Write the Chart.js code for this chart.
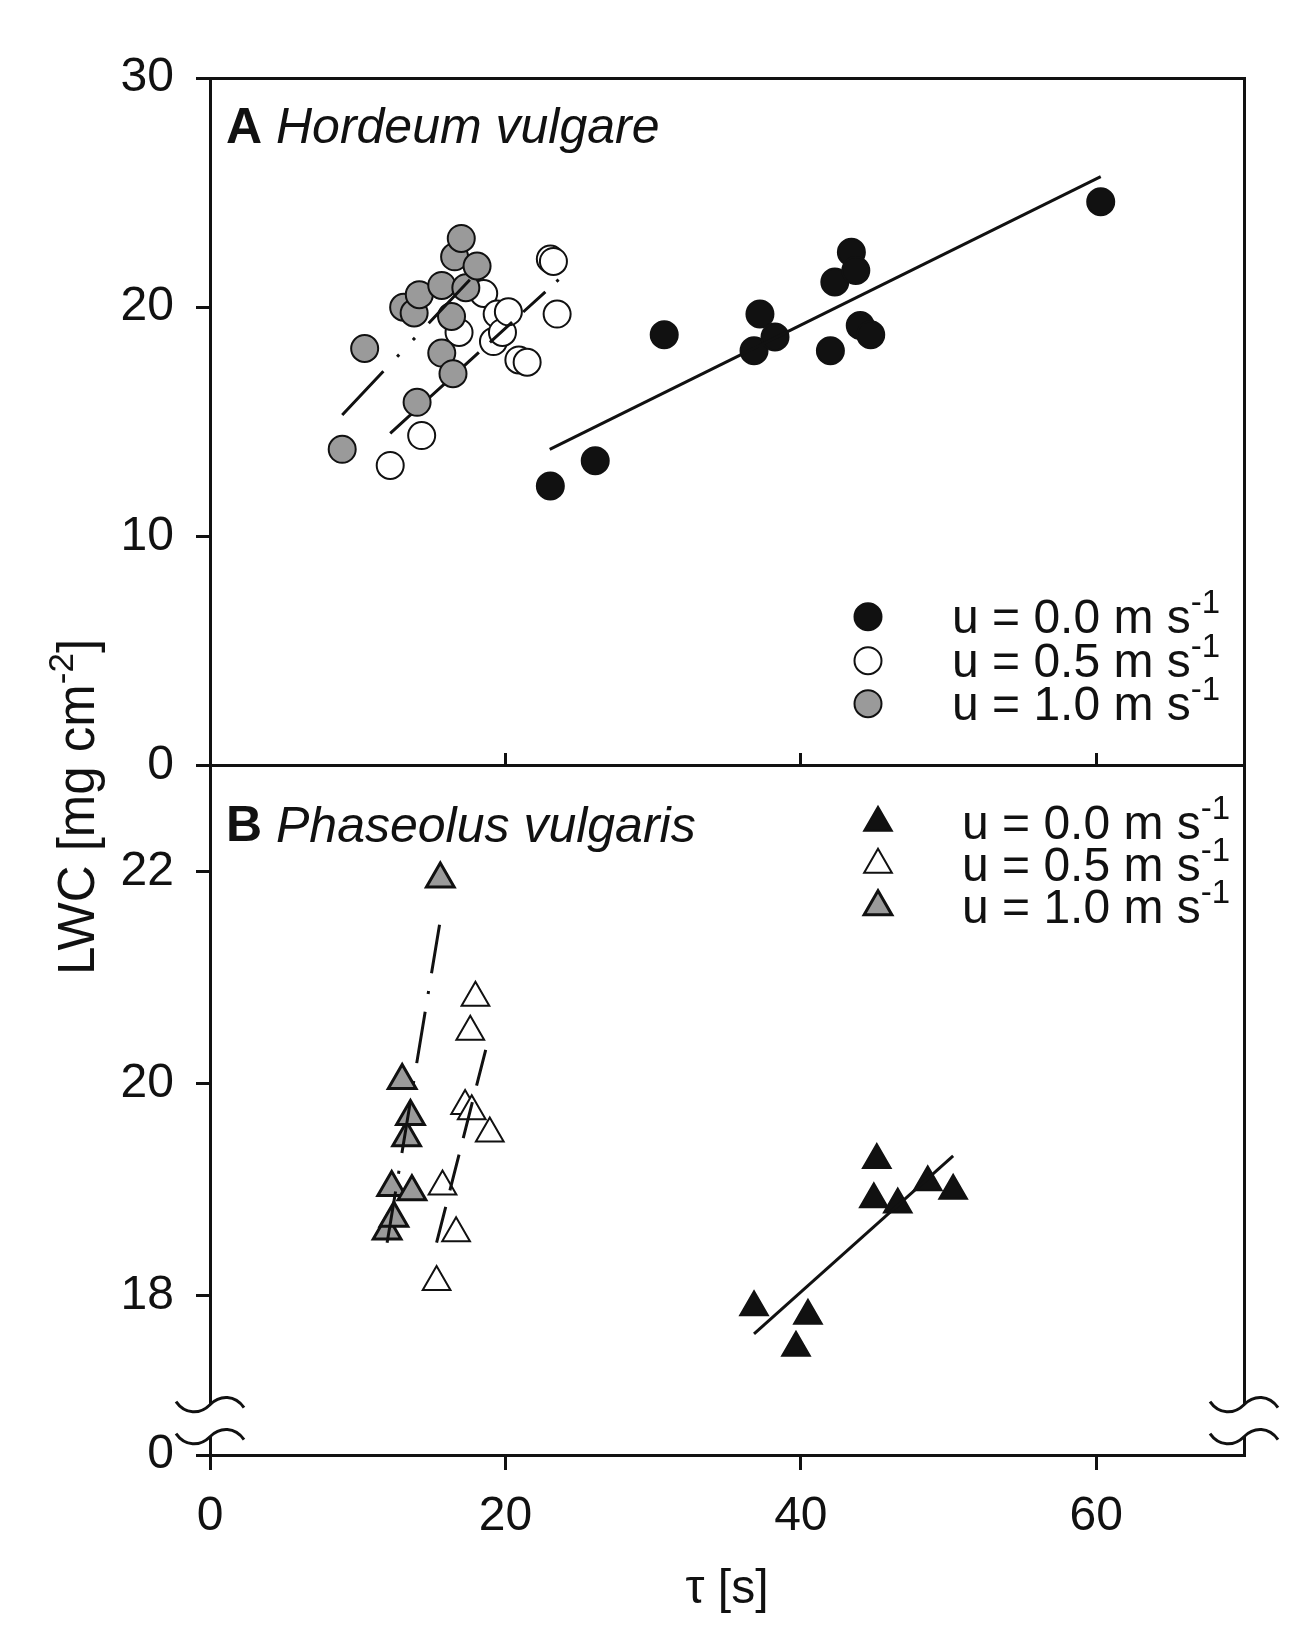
<!DOCTYPE html>
<html>
<head>
<meta charset="utf-8">
<title>LWC vs tau</title>
<script src="https://cdn.jsdelivr.net/npm/chart.js@4.4.1/dist/chart.umd.min.js"></script>
<style>
  html, body { margin: 0; padding: 0; background: #fff; }
  #wrap { position: relative; width: 1299px; height: 1628px; }
</style>
</head>
<body>
<div id="wrap"><canvas id="lwc" width="1299" height="1628"></canvas></div>
<script>
// values
const windSpeeds = ["0.0", "0.5", "1.0"];

// A  Hordeum vulgare (circles)
const hvTau00 = [23.04, 26.08, 30.75, 36.83, 37.23, 38.25, 42.0, 42.3, 43.42, 43.72, 44.02, 44.73, 60.3];
const hvLwc00 = [12.2, 13.3, 18.8, 18.1, 19.7, 18.7, 18.1, 21.1, 22.4, 21.6, 19.2, 18.8, 24.6];
const hvTau05 = [12.2, 14.33, 16.86, 18.53, 19.19, 19.44, 19.8, 20.2, 20.91, 21.47, 23.04, 23.25, 23.5];
const hvLwc05 = [13.1, 14.4, 18.9, 20.6, 18.5, 19.7, 18.9, 19.8, 17.7, 17.6, 22.1, 22.0, 19.7];
const hvTau10 = [8.95, 10.47, 13.11, 13.82, 14.02, 14.17, 15.69, 15.69, 16.35, 16.45, 16.56, 17.01, 17.32, 18.08];
const hvLwc10 = [13.8, 18.2, 20.0, 19.75, 15.85, 20.55, 20.95, 18.0, 19.6, 17.1, 22.2, 23.0, 20.85, 21.8];
// regression lines, panel A (end points)
const hvFitTau00 = [23.0, 60.3];
const hvFitLwc00 = [13.8, 25.7];
const hvFitTau05 = [12.2, 23.6];
const hvFitLwc05 = [14.5, 21.2];
const hvFitTau10 = [8.95, 18.03];
const hvFitLwc10 = [15.3, 21.5];

// B  Phaseolus vulgaris (triangles)
const pvTau00 = [36.83, 39.67, 40.48, 44.94, 45.14, 46.56, 48.59, 50.31];
const pvLwc00 = [17.89, 17.51, 17.81, 18.91, 19.28, 18.86, 19.07, 18.99];
const pvTau05 = [15.34, 15.74, 16.66, 17.27, 17.62, 17.72, 17.97, 18.94];
const pvLwc05 = [18.13, 19.03, 18.59, 19.79, 20.49, 19.74, 20.81, 19.53];
const pvTau10 = [11.99, 12.3, 12.45, 13.01, 13.31, 13.57, 13.67, 15.59];
const pvLwc10 = [18.61, 19.02, 18.73, 20.03, 19.49, 19.69, 18.98, 21.93];
// regression lines, panel B
const pvFitTau00 = [36.83, 50.31];
const pvFitLwc00 = [17.64, 19.32];
const pvFitTau05 = [15.34, 18.94];
const pvFitLwc05 = [18.5, 20.47];
const pvFitTau10 = [11.99, 15.54];
const pvFitLwc10 = [18.5, 21.5];

// axis ticks
const xTicks = [0, 20, 40, 60];
const yTicksA = [0, 10, 20, 30];
const yTicksB = [18, 20, 22];
const yTicksLow = [0];

const FONT = '"Liberation Sans", Arial, Helvetica, sans-serif';
const INK = '#111';
const GREY = '#9a9a9a';

Chart.defaults.font.family = FONT;
Chart.defaults.color = INK;

const pair = (xs, ys) => xs.map((x, i) => ({ x: x, y: ys[i] }));
const fixTicks = list => scale => { scale.ticks = list.map(v => ({ value: v })); };

function points(label, xs, ys, yAxisID, pointStyle, fill, bw) {
    return {
        label: label,
        data: pair(xs, ys),
        xAxisID: 'x',
        yAxisID: yAxisID,
        showLine: false,
        pointStyle: pointStyle,
        pointRadius: pointStyle === 'triangle' ? 16 : 13.5,
        pointHoverRadius: pointStyle === 'triangle' ? 16 : 13.5,
        pointBackgroundColor: fill,
        pointBorderColor: INK,
        pointBorderWidth: bw,
        pointHoverBorderWidth: bw
    };
}

function fitLine(label, xs, ys, yAxisID, dash) {
    return {
        label: label,
        data: pair(xs, ys),
        xAxisID: 'x',
        yAxisID: yAxisID,
        showLine: true,
        pointRadius: 0,
        pointHoverRadius: 0,
        borderColor: INK,
        borderWidth: 3,
        borderDash: dash,
        fill: false
    };
}

const datasets = [
    points('A 0.0', hvTau00, hvLwc00, 'yA', 'circle', INK, 2),
    fitLine('A fit 0.0', hvFitTau00, hvFitLwc00, 'yA', []),
    points('A 0.5', hvTau05, hvLwc05, 'yA', 'circle', '#fff', 2),
    fitLine('A fit 0.5', hvFitTau05, hvFitLwc05, 'yA', [30, 15]),
    points('A 1.0', hvTau10, hvLwc10, 'yA', 'circle', GREY, 2),
    fitLine('A fit 1.0', hvFitTau10, hvFitLwc10, 'yA', [60, 20, 3, 20, 3, 20]),
    points('B 0.0', pvTau00, pvLwc00, 'yB', 'triangle', INK, 2),
    fitLine('B fit 0.0', pvFitTau00, pvFitLwc00, 'yB', []),
    points('B 0.5', pvTau05, pvLwc05, 'yB', 'triangle', '#fff', 2),
    fitLine('B fit 0.5', pvFitTau05, pvFitLwc05, 'yB', [37, 17]),
    points('B 1.0', pvTau10, pvLwc10, 'yB', 'triangle', GREY, 3),
    fitLine('B fit 1.0', pvFitTau10, pvFitLwc10, 'yB', [52, 18, 3, 18])
];
// draw in listed order (later sets on top)
datasets.forEach((d, i) => { d.order = datasets.length - i; });

// text with a superscript tail, e.g. "m s" + "-1"
function supText(ctx, x, y, main, sup, size, style) {
    const supSize = Math.round(size * 0.68);
    ctx.font = (style || '') + ' ' + size + 'px ' + FONT;
    ctx.fillText(main, x, y);
    const w = ctx.measureText(main).width;
    ctx.font = supSize + 'px ' + FONT;
    ctx.fillText(sup, x + w, y - size * 0.33);
    return w + ctx.measureText(sup).width;
}

function squiggle(ctx, x, y) {
    ctx.beginPath();
    ctx.moveTo(x - 34, y - 3);
    ctx.bezierCurveTo(x - 25, y + 10, x - 10, y + 10, x, y);
    ctx.bezierCurveTo(x + 10, y - 10, x + 25, y - 10, x + 34, y + 3);
    ctx.stroke();
}

const figureText = {
    id: 'figureText',
    afterDraw(chart) {
        const { ctx, chartArea, scales } = chart;
        const sets = chart.data.datasets;
        ctx.save();

        // axis break between the 17..23 part and the zero of panel B
        const yCut = scales.yLow.top;
        const cuts = [yCut + 3, yCut + 35];
        ctx.lineWidth = 3;
        ctx.strokeStyle = INK;
        [chartArea.left, chartArea.right].forEach(x => {
            ctx.fillStyle = '#fff';
            ctx.fillRect(x - 4, cuts[0], 8, cuts[1] - cuts[0]);
            cuts.forEach(y => squiggle(ctx, x, y));
        });

        ctx.fillStyle = INK;
        ctx.textAlign = 'left';
        ctx.textBaseline = 'middle';

        // panel labels
        const panels = [
            { tag: 'A', name: 'Hordeum vulgare', y: scales.yA.top + 51 },
            { tag: 'B', name: 'Phaseolus vulgaris', y: scales.yB.top + 62 }
        ];
        panels.forEach(p => {
            const x = chartArea.left + 16;
            ctx.font = 'bold 50px ' + FONT;
            ctx.fillText(p.tag, x, p.y);
            const w = ctx.measureText(p.tag + ' ').width;
            ctx.font = 'italic 50px ' + FONT;
            ctx.fillText(p.name, x + w, p.y);
        });

        // legends
        const legends = [
            { sets: [0, 2, 4], mx: 868, tx: 952, ys: [-149, -105, -62].map(d => scales.yA.bottom + d) },
            { sets: [6, 8, 10], mx: 878, tx: 962, ys: [57, 99, 141].map(d => scales.yB.top + d) }
        ];
        legends.forEach(lg => {
            lg.sets.forEach((si, k) => {
                const ds = sets[si];
                const y = lg.ys[k];
                ctx.fillStyle = ds.pointBackgroundColor;
                ctx.strokeStyle = ds.pointBorderColor;
                ctx.lineWidth = ds.pointBorderWidth;
                Chart.helpers.drawPoint(ctx, {
                    pointStyle: ds.pointStyle,
                    rotation: 0,
                    radius: ds.pointRadius,
                    borderWidth: ds.pointBorderWidth
                }, lg.mx, y);
                ctx.fillStyle = INK;
                supText(ctx, lg.tx, y + 3, 'u = ' + windSpeeds[k] + ' m s', '-1', 48);
            });
        });

        // shared y title
        ctx.translate(80, 807);
        ctx.rotate(-Math.PI / 2);
        ctx.font = '51px ' + FONT;
        const wMain = ctx.measureText('LWC [mg cm').width;
        const wEnd = ctx.measureText(']').width;
        ctx.font = '35px ' + FONT;
        const wSup = ctx.measureText('-2').width;
        const x0 = -(wMain + wSup + wEnd) / 2;
        supText(ctx, x0, 0, 'LWC [mg cm', '-2', 51);
        ctx.font = '51px ' + FONT;
        ctx.fillText(']', x0 + wMain + wSup, 0);

        ctx.restore();
    }
};

const tickFont = { size: 48 };
const leftAxis = (extra) => Object.assign({
    type: 'linear',
    position: 'left',
    stack: 'lwc',
    ticks: { font: tickFont, color: INK, padding: 22 },
    grid: { drawOnChartArea: false, tickLength: 14, lineWidth: 3, color: INK, tickColor: INK },
    border: { color: INK, width: 3 },
    afterFit: s => { s.width = 210; }
}, extra);

new Chart(document.getElementById('lwc'), {
    type: 'scatter',
    data: { datasets: datasets },
    options: {
        responsive: false,
        animation: false,
        devicePixelRatio: 1,
        layout: { padding: { top: 78, left: 0, right: 0, bottom: 0 } },
        plugins: { legend: { display: false }, tooltip: { enabled: false }, title: { display: false } },
        scales: {
            x: {
                type: 'linear',
                position: 'bottom',
                min: 0,
                max: 70,
                afterBuildTicks: fixTicks(xTicks),
                ticks: { font: tickFont, color: INK, padding: 18 },
                grid: { drawOnChartArea: false, tickLength: 15, lineWidth: 3, color: INK },
                border: { color: INK, width: 3 },
                title: { display: true, text: 'τ [s]', font: { size: 48 }, color: INK, padding: { top: 0, bottom: 9 } },
                afterFit: s => { s.height = 173; }
            },
            // bottom line of panel A, ticks pointing up into A
            xA: {
                axis: 'x',
                type: 'linear',
                position: { yA: 0 },
                min: 0,
                max: 70,
                afterBuildTicks: fixTicks(xTicks),
                ticks: { display: false },
                grid: { drawOnChartArea: false, tickLength: -14, lineWidth: 3, color: INK },
                border: { color: INK, width: 3 }
            },
            yLow: leftAxis({
                stackWeight: 53.3,
                min: 0,
                max: 1,
                afterBuildTicks: fixTicks(yTicksLow)
            }),
            yB: leftAxis({
                stackWeight: 636,
                min: 17,
                max: 23,
                afterBuildTicks: fixTicks(yTicksB)
            }),
            yA: leftAxis({
                stackWeight: 687.7,
                min: 0,
                max: 30,
                afterBuildTicks: fixTicks(yTicksA),
                grid: {
                    drawOnChartArea: true,
                    tickLength: 14,
                    lineWidth: 3,
                    tickColor: INK,
                    color: c => (c.tick && (c.tick.value === 0 || c.tick.value === 30)) ? INK : 'rgba(0,0,0,0)'
                }
            }),
            yR: {
                type: 'linear',
                position: 'right',
                ticks: { display: false },
                grid: { drawOnChartArea: false, drawTicks: false, color: INK },
                border: { color: INK, width: 3 },
                afterFit: s => { s.width = 55; }
            }
        }
    },
    plugins: [figureText]
});
</script>
</body>
</html>
